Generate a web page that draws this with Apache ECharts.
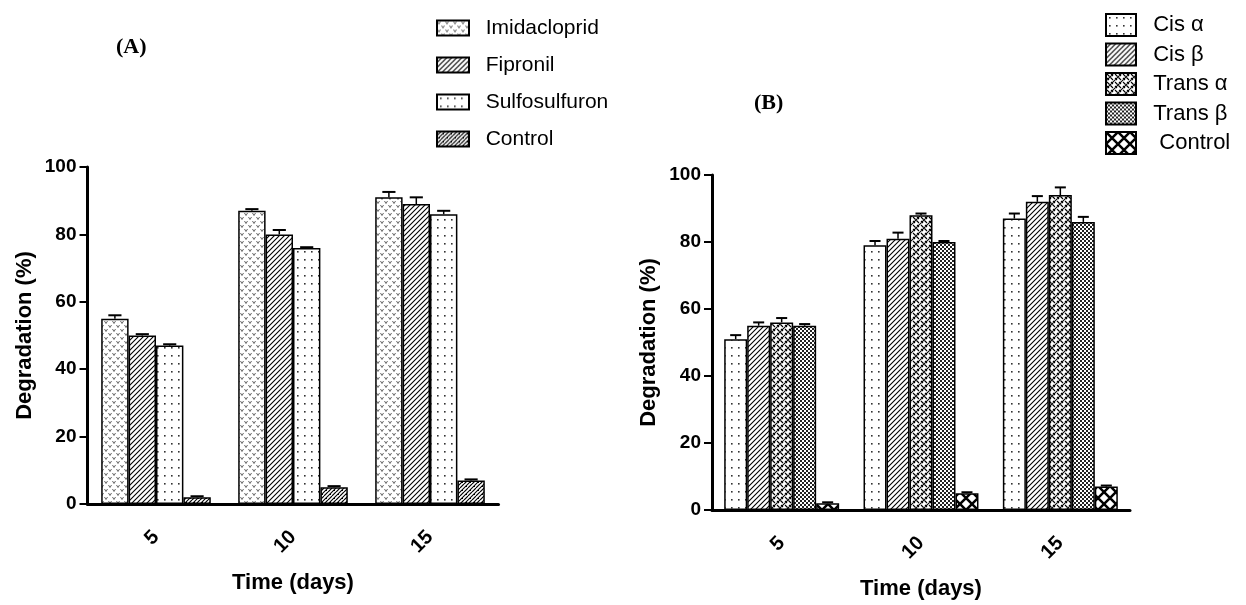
<!DOCTYPE html>
<html>
<head>
<meta charset="utf-8">
<script src="https://cdn.jsdelivr.net/npm/echarts@6/dist/echarts.min.js"></script>
<style>
  html, body { margin: 0; padding: 0; background: #fff; }
  #chart { width: 1246px; height: 605px; }
</style>
</head>
<body>
<div id="chart"></div>
<script>
  // days
  const categories = ["5", "10", "15"]
  const yTicks = { min: 0, max: 100, interval: 20 }

  // panel A
  const imidacloprid = [55, 87, 91]
  const imidaclopridErr = [1, 0.5, 1.6]
  const fipronil = [50, 80, 89]
  const fipronilErr = [0.4, 1.3, 2]
  const sulfosulfuron = [47, 76, 86]
  const sulfosulfuronErr = [0.4, 0.2, 1]
  const controlA = [2, 5, 7]
  const controlAErr = [0.3, 0.3, 0.3]

  // panel B
  const cisAlpha = [51, 79, 87]
  const cisAlphaErr = [1.2, 1.3, 1.5]
  const cisBeta = [55, 81, 92]
  const cisBetaErr = [1, 1.8, 1.7]
  const transAlpha = [56, 88, 94]
  const transAlphaErr = [1.3, 0.5, 2.3]
  const transBeta = [55, 80, 86]
  const transBetaErr = [0.5, 0.3, 1.5]
  const controlB = [2, 5, 7]
  const controlBErr = [0.3, 0.3, 0.3]

  const FONT = "Liberation Sans, Arial, sans-serif"

  function tile(w, h, draw) {
    const c = document.createElement("canvas")
    c.width = w
    c.height = h
    const g = c.getContext("2d")
    g.fillStyle = "#fff"
    g.fillRect(0, 0, w, h)
    draw(g)
    return { image: c, repeat: "repeat" }
  }

  const patVee = tile(8, 8, (g) => {
    g.strokeStyle = "#666"
    g.lineWidth = 1
    g.beginPath()
    g.moveTo(0.5, 1); g.lineTo(2, 3.5); g.lineTo(3.5, 1)
    g.moveTo(4.5, 5); g.lineTo(6, 7.5); g.lineTo(7.5, 5)
    g.stroke()
  })
  const patDiag = tile(5, 5, (g) => {
    g.strokeStyle = "#000"
    g.lineWidth = 1.1
    g.beginPath()
    g.moveTo(0, 5); g.lineTo(5, 0)
    g.moveTo(-1, 1); g.lineTo(1, -1)
    g.moveTo(4, 6); g.lineTo(6, 4)
    g.stroke()
  })
  const patDots = tile(7, 8, (g) => {
    g.fillStyle = "#333"
    g.fillRect(3, 3, 1.6, 1.6)
  })
  const patZig = tile(8, 8, (g) => {
    g.strokeStyle = "#000"
    g.lineWidth = 1.1
    g.beginPath()
    g.moveTo(0, 8); g.lineTo(8, 0)
    g.moveTo(-1, 1); g.lineTo(1, -1)
    g.moveTo(7, 9); g.lineTo(9, 7)
    g.moveTo(0, 4); g.lineTo(4, 0)
    g.moveTo(4, 8); g.lineTo(8, 4)
    g.moveTo(1, 6.5); g.lineTo(3, 6.5)
    g.moveTo(5, 2.5); g.lineTo(7, 2.5)
    g.stroke()
  })
  const patWeave = tile(8, 8, (g) => {
    g.strokeStyle = "#000"
    g.lineWidth = 1.1
    g.beginPath()
    g.moveTo(0, 8); g.lineTo(8, 0)
    g.moveTo(-1, 1); g.lineTo(1, -1)
    g.moveTo(7, 9); g.lineTo(9, 7)
    g.moveTo(1, 1); g.lineTo(3.5, 3.5)
    g.moveTo(4.5, 4.5); g.lineTo(7, 7)
    g.moveTo(5, 1); g.lineTo(7, 3)
    g.moveTo(1, 5); g.lineTo(3, 7)
    g.stroke()
  })
  const patCheck = tile(4, 4, (g) => {
    g.fillStyle = "#222"
    g.fillRect(0, 0, 2, 2)
    g.fillRect(2, 2, 2, 2)
  })
  const patCross = tile(12, 12, (g) => {
    g.strokeStyle = "#000"
    g.lineWidth = 2.5
    g.beginPath()
    g.moveTo(0, 0); g.lineTo(12, 12)
    g.moveTo(12, 0); g.lineTo(0, 12)
    g.stroke()
  })

  function bar(name, data, pattern, grid, barWidth) {
    return {
      name: name,
      type: "bar",
      xAxisIndex: grid,
      yAxisIndex: grid,
      data: data,
      barWidth: barWidth,
      barGap: "0%",
      itemStyle: { color: pattern, borderColor: "#000", borderWidth: 1.5 },
      emphasis: { disabled: true },
    }
  }

  function errSeries(grid, nBars, frac, lists) {
    const data = []
    lists.forEach((list, i) => {
      list[0].forEach((v, c) => data.push([c, i, v, list[1][c]]))
    })
    return {
      type: "custom",
      xAxisIndex: grid,
      yAxisIndex: grid,
      z: 5,
      encode: { x: 0, y: 2 },
      data: data,
      renderItem: function (params, api) {
        const c = api.value(0), i = api.value(1), v = api.value(2), e = api.value(3)
        const band = api.size([1, 0])[0]
        const off = (-nBars * frac / 2 + frac * (i + 0.5)) * band
        const p0 = api.coord([c, v])
        const p1 = api.coord([c, v + e])
        const x = p0[0] + off
        const hw = frac * band * 0.24
        return {
          type: "group",
          children: [
            { type: "line", shape: { x1: x, y1: p0[1], x2: x, y2: p1[1] }, style: { stroke: "#000", lineWidth: 1.5 } },
            { type: "line", shape: { x1: x - hw, y1: p1[1], x2: x + hw, y2: p1[1] }, style: { stroke: "#000", lineWidth: 2 } },
          ],
        }
      },
    }
  }

  function xAxis(grid) {
    return {
      type: "category",
      gridIndex: grid,
      data: categories,
      name: "Time (days)",
      nameLocation: "middle",
      nameGap: 68,
      nameTextStyle: { fontFamily: FONT, fontWeight: "bold", fontSize: 22, color: "#000" },
      axisLine: { lineStyle: { color: "#000", width: 3 } },
      axisTick: { alignWithLabel: true, length: 9, lineStyle: { width: 2, color: "#000" } },
      axisLabel: { rotate: 45, margin: 30, fontFamily: FONT, fontWeight: "bold", fontSize: 20, color: "#000" },
    }
  }
  function yAxis(grid) {
    return {
      type: "value",
      gridIndex: grid,
      min: yTicks.min,
      max: yTicks.max,
      interval: yTicks.interval,
      name: "Degradation (%)",
      nameLocation: "middle",
      nameGap: 52,
      nameTextStyle: { fontFamily: FONT, fontWeight: "bold", fontSize: 22, color: "#000" },
      axisLine: { show: true, lineStyle: { color: "#000", width: 3 } },
      axisTick: { show: true, length: 8, lineStyle: { width: 2, color: "#000" } },
      axisLabel: { margin: 11, fontFamily: FONT, fontWeight: "bold", fontSize: 19, color: "#000" },
      splitLine: { show: false },
    }
  }

  const titleText = { fontFamily: "Liberation Serif, serif", fontWeight: "bold", fontSize: 22, color: "#000" }

  const option = {
    backgroundColor: "#fff",
    animation: false,
    title: [
      { text: "(A)", left: 116, top: 36, padding: 0, textStyle: titleText },
      { text: "(B)", left: 754, top: 92, padding: 0, textStyle: titleText },
    ],
    legend: [
      {
        orient: "vertical",
        left: 436,
        top: 17,
        padding: 0,
        icon: "rect",
        itemWidth: 32,
        itemHeight: 15,
        itemGap: 15,
        selectedMode: false,
        formatter: (n) => "  " + n,
        textStyle: { fontFamily: FONT, fontSize: 21, color: "#000", lineHeight: 22 },
        data: ["Imidacloprid", "Fipronil", "Sulfosulfuron", "Control"],
      },
      {
        orient: "vertical",
        left: 1105,
        top: 13,
        padding: 0,
        icon: "rect",
        itemWidth: 30,
        itemHeight: 22,
        itemGap: 5.5,
        selectedMode: false,
        formatter: (n) => "  " + n,
        textStyle: { fontFamily: FONT, fontSize: 22, color: "#000", lineHeight: 22 },
        data: ["Cis α", "Cis β", "Trans α", "Trans β", " Control"],
      },
    ],
    grid: [
      { left: 87.5, right: 747.5, top: 167, bottom: 101 },
      { left: 712, right: 116, top: 175, bottom: 93 },
    ],
    xAxis: [xAxis(0), xAxis(1)],
    yAxis: [yAxis(0), yAxis(1)],
    series: [
      bar("Imidacloprid", imidacloprid, patVee, 0, "20%"),
      bar("Fipronil", fipronil, patDiag, 0, "20%"),
      bar("Sulfosulfuron", sulfosulfuron, patDots, 0, "20%"),
      bar("Control", controlA, patZig, 0, "20%"),
      errSeries(0, 4, 0.2, [
        [imidacloprid, imidaclopridErr],
        [fipronil, fipronilErr],
        [sulfosulfuron, sulfosulfuronErr],
        [controlA, controlAErr],
      ]),
      bar("Cis α", cisAlpha, patDots, 1, "16.5%"),
      bar("Cis β", cisBeta, patDiag, 1, "16.5%"),
      bar("Trans α", transAlpha, patWeave, 1, "16.5%"),
      bar("Trans β", transBeta, patCheck, 1, "16.5%"),
      bar(" Control", controlB, patCross, 1, "16.5%"),
      errSeries(1, 5, 0.165, [
        [cisAlpha, cisAlphaErr],
        [cisBeta, cisBetaErr],
        [transAlpha, transAlphaErr],
        [transBeta, transBetaErr],
        [controlB, controlBErr],
      ]),
    ],
  }

  const myChart = echarts.init(document.getElementById("chart"))
  myChart.setOption(option)
</script>
</body>
</html>
